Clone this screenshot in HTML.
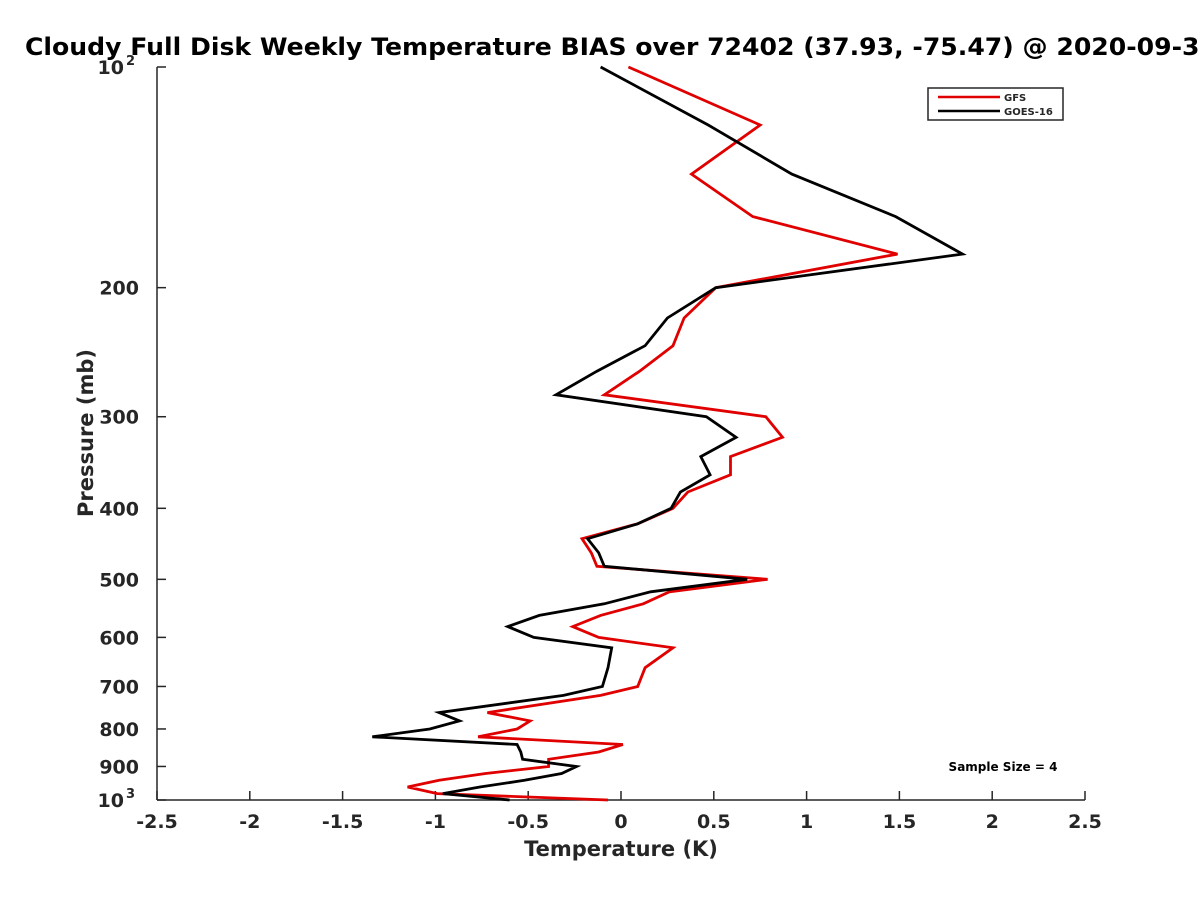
<!DOCTYPE html>
<html><head><meta charset="utf-8"><style>
html,body{margin:0;padding:0;background:#fff;width:1200px;height:900px;overflow:hidden}
svg text{font-family:"DejaVu Sans","Liberation Sans",sans-serif;font-weight:bold;fill:#262626}
</style></head><body>
<svg id="chart" width="1200" height="900" xmlns="http://www.w3.org/2000/svg">
<rect width="1200" height="900" fill="#fff"/>
<text x="25" y="55" font-size="24" textLength="1192" lengthAdjust="spacingAndGlyphs" style="fill:#000">Cloudy Full Disk Weekly Temperature BIAS over 72402 (37.93, -75.47) @ 2020-09-30</text>
<g id="axes"></g>
<g id="series"></g>
<text transform="translate(93,433) rotate(-90)" text-anchor="middle" font-size="21">Pressure (mb)</text>
<text x="621" y="856" text-anchor="middle" font-size="21">Temperature (K)</text>
<g>
<rect x="928" y="88" width="135" height="32" fill="#fff" stroke="#262626" stroke-width="1.5"/>
<line x1="938" y1="97" x2="1000" y2="97" stroke="#e00000" stroke-width="2.5"/>
<text x="1004" y="101" font-size="10">GFS</text>
<line x1="938" y1="111" x2="1000" y2="111" stroke="#000" stroke-width="2.5"/>
<text x="1004" y="115" font-size="10">GOES-16</text>
</g>
<text x="1003" y="771" text-anchor="middle" font-size="12" style="fill:#000">Sample Size = 4</text>
</svg>
<script>
const pressures=[100,120,140,160,180,200,220,240,260,280,300,320,340,360,380,400,420,440,460,480,500,520,540,560,580,600,620,660,700,720,760,780,800,820,840,860,880,900,920,940,960,980,1000];
const gfsBias=[0.04,0.75,0.38,0.71,1.49,0.51,0.34,0.28,0.10,-0.09,0.78,0.87,0.59,0.59,0.36,0.28,0.09,-0.21,-0.16,-0.13,0.79,0.26,0.12,-0.11,-0.26,-0.12,0.28,0.13,0.09,-0.11,-0.72,-0.49,-0.56,-0.77,0.01,-0.12,-0.39,-0.39,-0.73,-0.98,-1.15,-0.99,-0.07];
const goesBias=[-0.11,0.47,0.92,1.48,1.84,0.51,0.25,0.13,-0.13,-0.35,0.46,0.62,0.43,0.48,0.32,0.27,0.09,-0.18,-0.12,-0.09,0.68,0.16,-0.09,-0.44,-0.61,-0.47,-0.05,-0.07,-0.10,-0.31,-0.98,-0.87,-1.03,-1.34,-0.56,-0.54,-0.53,-0.24,-0.32,-0.52,-0.76,-0.96,-0.60];
const xTicks=[-2.5,-2,-1.5,-1,-0.5,0,0.5,1,1.5,2,2.5];
const yTicks=[100,200,300,400,500,600,700,800,900,1000];
const yTickLabels=["10^2","200","300","400","500","600","700","800","900","10^3"];
const X0=157,X1=1085,Y0=67,Y1=800;
function xs(v){return X0+(v+2.5)/5*(X1-X0);}
function ys(p){return Y0+Math.log10(p/100)*(Y1-Y0);}
const NS="http://www.w3.org/2000/svg";
const ax=document.getElementById('axes');
function mk(tag,attrs,parent){const e=document.createElementNS(NS,tag);for(const k in attrs)e.setAttribute(k,attrs[k]);parent.appendChild(e);return e;}
const xl=mk('line',{x1:X0,y1:Y1,x2:X1,y2:Y1,stroke:'#262626','stroke-width':1.5},ax);


const yl=mk('line',{x1:X0,y1:Y0,x2:X0,y2:Y1,stroke:'#262626','stroke-width':1.5},ax);


xTicks.forEach(t=>{
  const x=xs(t);
  const tk=mk('line',{x1:x,y1:Y1,x2:x,y2:Y1-9,stroke:'#262626','stroke-width':1.5},ax);
  
  
  const tx=mk('text',{x:x,y:Y1+28,'text-anchor':'middle','font-size':19},ax);
  tx.textContent=String(t);
  
  
});
yTicks.forEach((p,i)=>{
  const y=ys(p);
  const tk=mk('line',{x1:X0,y1:y,x2:X0+9,y2:y,stroke:'#262626','stroke-width':1.5},ax);
  
  
  const lab=yTickLabels[i];
  if(lab.indexOf('^')>=0){
    const parts=lab.split('^');
    const tx=mk('text',{x:X0-33,y:y+7,'text-anchor':'end','font-size':19},ax);
    tx.textContent=parts[0];
    
    
    const sx=mk('text',{x:X0-22,y:y-2,'text-anchor':'end','font-size':13},ax);
    sx.textContent=parts[1];
    
    
  } else {
    const tx=mk('text',{x:X0-18,y:y+7,'text-anchor':'end','font-size':19},ax);
    tx.textContent=lab;
    
    
  }
});
const sg=document.getElementById('series');
function line(vals,color,name){
  const pts=vals.map((v,i)=>xs(v).toFixed(1)+','+ys(pressures[i]).toFixed(1)).join(' ');
  const pl=mk('polyline',{points:pts,fill:'none',stroke:color,'stroke-width':2.8,'stroke-linejoin':'miter'},sg);
  
  
}
line(gfsBias,'#e00000','gfs-line');
line(goesBias,'#000000','goes16-line');
</script>
</body></html>
